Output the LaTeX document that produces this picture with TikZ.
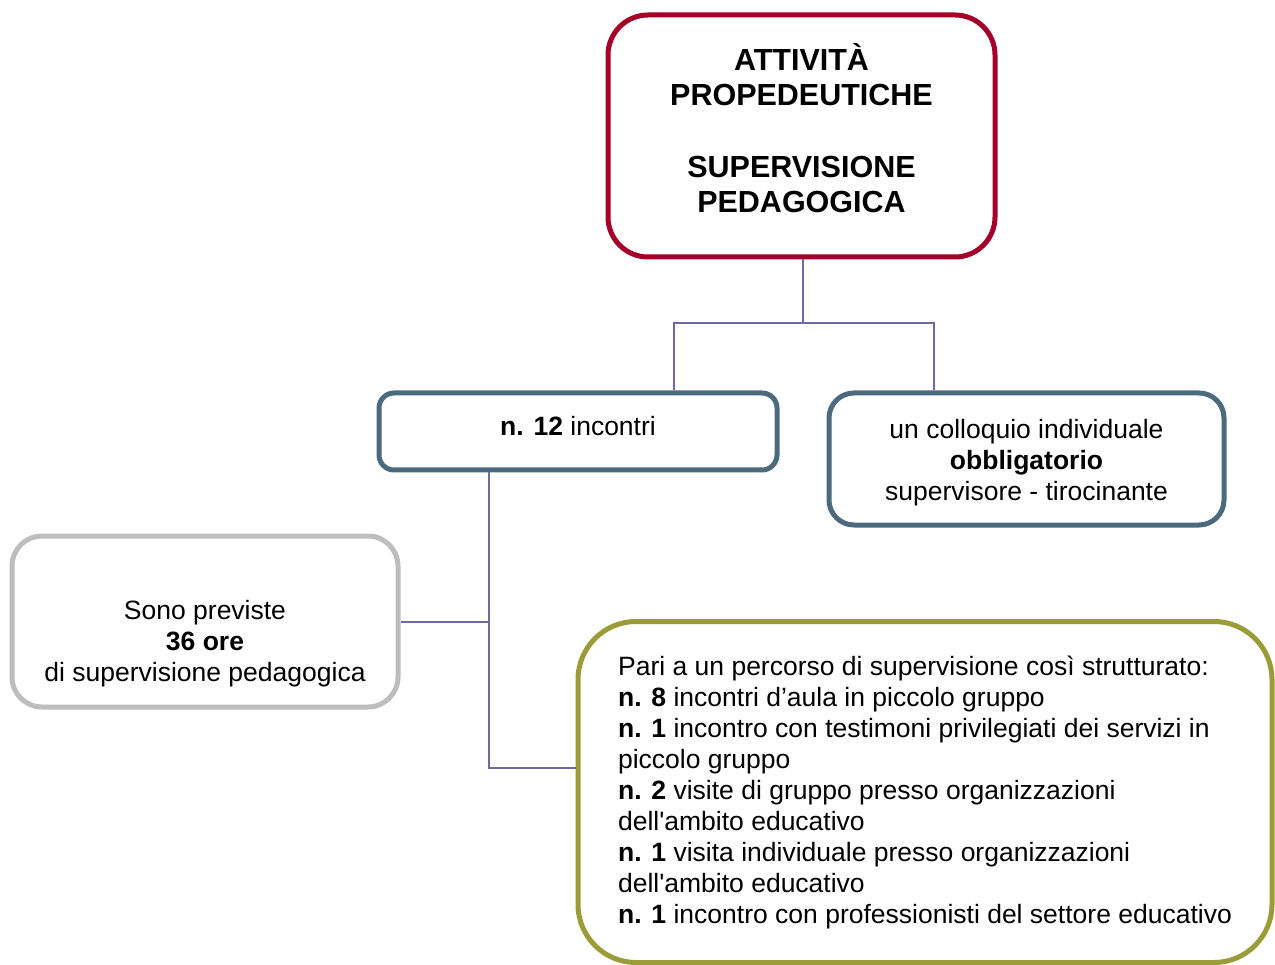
\documentclass[tikz,border=0pt]{standalone}
\usepackage{fontspec}
\setmainfont{Liberation Sans}[Ligatures=TeXOff]
\usetikzlibrary{positioning,calc}
\definecolor{rosso}{HTML}{A5002A}
\definecolor{ardesia}{HTML}{4C6A7E}
\definecolor{grigio}{HTML}{BDBDBD}
\definecolor{oliva}{HTML}{9B9B37}
\definecolor{viola}{HTML}{6D6AA3}
\newcommand{\alza}[2]{\raisebox{#1}[\height][\depth]{#2}}

\begin{document}
\begin{tikzpicture}[x=1pt,y=-1pt,
		box/.style={rounded corners=#1, draw, line width=5pt, fill=white, align=center, inner sep=0pt, font=\fontsize{26.5}{31}\selectfont},
		link/.style={draw=viola, line width=2pt}
		]
		\useasboundingbox (0,0) rectangle (1275,965);
		\node[box=40pt, draw=rosso, minimum width=387, minimum height=242, font=\fontsize{30.5}{35}\bfseries\selectfont] (top) at (801.5,136) {\alza{7.5pt}{ATTIVITÀ}\\\alza{7.5pt}{PROPEDEUTICHE}\\[37pt]\alza{7.5pt}{SUPERVISIONE}\\\alza{7.5pt}{PEDAGOGICA}};
		\node[box=15pt, draw=ardesia, minimum width=398, minimum height=77] (incontri) at (578,431.5) {\alza{5.5pt}{\textbf{n. 12} incontri}};
		\node[box=25pt, draw=ardesia, minimum width=395, minimum height=132] (colloquio) at (1026.5,459) {\alza{-4pt}{un colloquio individuale}\\\alza{-4pt}{\textbf{obbligatorio}}\\\alza{-4pt}{supervisore - tirocinante}};
		\node[box=30pt, draw=grigio, minimum width=386, minimum height=171] (previste) at (205,621.5) {};
		\node[align=center, font=\fontsize{26.5}{31}\selectfont] (previstetxt) at ([yshift=-22]previste.center) {Sono previste\\\textbf{36 ore}\\di supervisione pedagogica};
		\node[box=58pt, draw=oliva, minimum width=694, minimum height=341, align=left, inner xsep=40pt] (percorso) at (925,792) {Pari a un percorso di supervisione così strutturato:\\
			\textbf{n. 8} incontri d’aula in piccolo gruppo\\
			\textbf{n. 1} incontro con testimoni privilegiati dei servizi in\\piccolo gruppo\\
			\textbf{n. 2} visite di gruppo presso organizzazioni\\dell'ambito educativo\\
			\textbf{n. 1} visita individuale presso organizzazioni\\dell'ambito educativo\\
			\textbf{n. 1} incontro con professionisti del settore educativo};
		% connettori
		\coordinate (split) at (803,323);
		\coordinate (gomito) at (489,768);
		\draw[link] (top.south -| split) -- (split) -| ([xshift=96]incontri.north);
		\draw[link] (split) -| ([xshift=-92.5]colloquio.north);
		\draw[link] (incontri.south -| gomito) -- (gomito) -- (gomito -| percorso.west);
		\draw[link] (previste.east) -- (previste.east -| gomito);
\end{tikzpicture}
\end{document}
